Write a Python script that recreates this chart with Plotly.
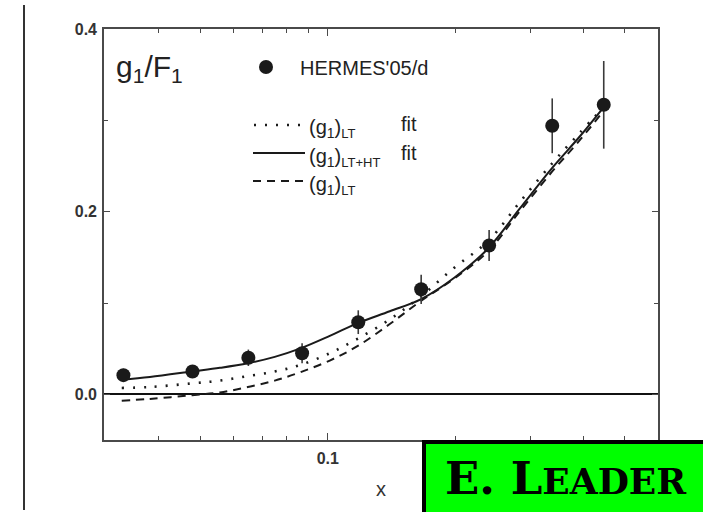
import numpy as np
import plotly.graph_objects as go

# ---- data ----
x_data = [0.033, 0.048, 0.065, 0.087, 0.118, 0.166, 0.240, 0.338, 0.447]
g1F1 = [0.021, 0.025, 0.040, 0.045, 0.079, 0.115, 0.163, 0.294, 0.317]
g1F1_err = [0.007, 0.007, 0.009, 0.011, 0.013, 0.016, 0.017, 0.030, 0.048]

x_curve = [0.0327, 0.0381, 0.0479, 0.0557, 0.0648, 0.0750, 0.0859, 0.1011, 0.1177,
           0.140, 0.1655, 0.199, 0.239, 0.283, 0.338, 0.392, 0.446]
lt_ht_fit = [0.016, 0.019, 0.025, 0.029, 0.034, 0.041, 0.050, 0.064, 0.078,
             0.091, 0.104, 0.128, 0.160, 0.203, 0.248, 0.282, 0.314]
lt_fit = [0.007, 0.008, 0.012, 0.015, 0.020, 0.025, 0.032, 0.045, 0.061,
          0.082, 0.107, 0.139, 0.168, 0.210, 0.253, 0.286, 0.314]
lt_only = [-0.007, -0.005, -0.001, 0.002, 0.008, 0.015, 0.024, 0.037, 0.053,
           0.077, 0.102, 0.127, 0.157, 0.200, 0.244, 0.278, 0.310]

y_tick_vals = [0.0, 0.2, 0.4]
y_tick_text = ["0.0", "0.2", "0.4"]
x_tick_vals = [0.1]
x_tick_text = ["0.1"]
x_minor_vals = [0.04, 0.05, 0.06, 0.07, 0.08, 0.09, 0.2, 0.3, 0.4, 0.5]

# ---- layout geometry (pixels) ----
W, H = 703, 512
L, R, T, B = 104, 658, 29, 440
pw, ph = R - L, B - T


def px(x):
    return (x - L) / pw


def py(y):
    return (B - y) / ph


FONT = "Liberation Sans, Arial, sans-serif"
INK = "#1a1a1a"

fig = go.Figure()

fig.add_trace(go.Scatter(x=x_curve, y=lt_fit, mode="lines", line_shape="spline",
                         line=dict(color=INK, width=2.6, dash="2px,9px"),
                         showlegend=False))
fig.add_trace(go.Scatter(x=x_curve, y=lt_only, mode="lines", line_shape="spline",
                         line=dict(color=INK, width=2, dash="8px,6px"),
                         showlegend=False))
fig.add_trace(go.Scatter(x=x_curve, y=lt_ht_fit, mode="lines", line_shape="spline",
                         line=dict(color=INK, width=2),
                         showlegend=False))
fig.add_trace(go.Scatter(x=x_data, y=g1F1, mode="markers",
                         marker=dict(color=INK, size=14),
                         error_y=dict(type="data", array=g1F1_err, color="#3a3a3a",
                                      thickness=1.6, width=0),
                         showlegend=False))

shapes = []
# slide decoration line at left
shapes.append(dict(type="line", xref="paper", yref="paper",
                   x0=px(24), x1=px(24), y0=py(5), y1=py(510),
                   line=dict(color="#333333", width=2)))
# legend samples
shapes.append(dict(type="circle", xref="paper", yref="paper",
                   x0=px(259), x1=px(273), y0=py(74), y1=py(60),
                   fillcolor=INK, line=dict(color=INK, width=0)))
shapes.append(dict(type="line", xref="paper", yref="paper",
                   x0=px(254), x1=px(304), y0=py(125), y1=py(125),
                   line=dict(color=INK, width=2.4, dash="2px,9px")))
shapes.append(dict(type="line", xref="paper", yref="paper",
                   x0=px(253), x1=px(305), y0=py(153), y1=py(153),
                   line=dict(color=INK, width=2)))
shapes.append(dict(type="line", xref="paper", yref="paper",
                   x0=px(253), x1=px(305), y0=py(181), y1=py(181),
                   line=dict(color=INK, width=2, dash="8px,6px")))
# green name box
shapes.append(dict(type="rect", xref="paper", yref="paper",
                   x0=px(424), x1=px(712), y0=py(520), y1=py(442),
                   fillcolor="#00ff00", line=dict(color="black", width=4)))

TXT = "#222"
SUBSM = "<span style='font-size:13px'>{}</span>"
annotations = [
    dict(text="g<sub>1</sub>/F<sub>1</sub>", x=px(114), y=py(68), xref="paper", yref="paper",
         xanchor="left", yanchor="middle", showarrow=False,
         font=dict(family=FONT, size=30, color=TXT)),
    dict(text="HERMES'05/d", x=px(298), y=py(68), xref="paper", yref="paper",
         xanchor="left", yanchor="middle", showarrow=False,
         font=dict(family=FONT, size=20, color=TXT)),
    dict(text="(g<sub>1</sub>)<sub>" + SUBSM.format("LT") + "</sub>", x=px(307), y=py(128),
         xref="paper", yref="paper", xanchor="left", yanchor="middle", showarrow=False,
         font=dict(family=FONT, size=20, color=TXT)),
    dict(text="(g<sub>1</sub>)<sub>" + SUBSM.format("LT+HT") + "</sub>", x=px(307), y=py(157),
         xref="paper", yref="paper", xanchor="left", yanchor="middle", showarrow=False,
         font=dict(family=FONT, size=20, color=TXT)),
    dict(text="(g<sub>1</sub>)<sub>" + SUBSM.format("LT") + "</sub>", x=px(307), y=py(185),
         xref="paper", yref="paper", xanchor="left", yanchor="middle", showarrow=False,
         font=dict(family=FONT, size=20, color=TXT)),
    dict(text="fit", x=px(399), y=py(124), xref="paper", yref="paper",
         xanchor="left", yanchor="middle", showarrow=False,
         font=dict(family=FONT, size=20, color=TXT)),
    dict(text="fit", x=px(399), y=py(153), xref="paper", yref="paper",
         xanchor="left", yanchor="middle", showarrow=False,
         font=dict(family=FONT, size=20, color=TXT)),
    dict(text="x", x=px(381), y=py(489), xref="paper", yref="paper",
         xanchor="center", yanchor="middle", showarrow=False,
         font=dict(family=FONT, size=20, color="#333")),
    dict(text="<b>E. L<span style='font-size:36px'>EADER</span></b>",
         x=px(566), y=py(478), xref="paper", yref="paper",
         xanchor="center", yanchor="middle", showarrow=False,
         font=dict(family="DejaVu Serif, serif", size=45, color="black")),
]

axis_common = dict(showgrid=False, ticks="inside", mirror="allticks", showline=True,
                   linecolor="#4a4a4a", linewidth=1.6, tickcolor="#4a4a4a", tickwidth=1.4,
                   tickfont=dict(family=FONT, size=16, color="#333", weight="bold"))

fig.update_layout(
    width=W, height=H,
    margin=dict(l=L, r=W - R, t=T, b=H - B),
    paper_bgcolor="white", plot_bgcolor="white",
    xaxis=dict(type="log", range=[np.log10(0.0297), np.log10(0.6)],
               tickmode="array", tickvals=x_tick_vals, ticktext=x_tick_text, ticklen=7,
               ticklabelstandoff=3,
               minor=dict(tickmode="array", tickvals=x_minor_vals, ticks="inside",
                          ticklen=4, tickcolor="#4a4a4a", tickwidth=1.2),
               zeroline=False, **axis_common),
    yaxis=dict(range=[-0.05, 0.4], tickmode="array", tickvals=y_tick_vals,
               ticktext=y_tick_text, ticklen=6, ticklabelstandoff=2,
               minor=dict(tickmode="array", tickvals=[0.1, 0.3], ticks="inside",
                          ticklen=4, tickcolor="#4a4a4a", tickwidth=1.2),
               zeroline=True, zerolinecolor="#111", zerolinewidth=2, **axis_common),
    shapes=shapes,
    annotations=annotations,
)

fig.write_html("out.html")
